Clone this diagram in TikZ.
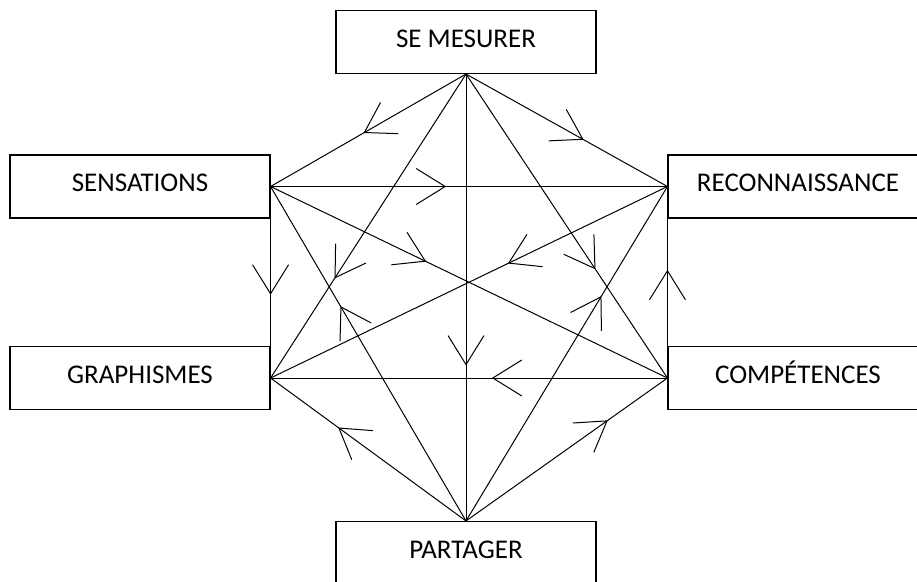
\documentclass[tikz,border=0pt]{standalone}
\usepackage{fontspec}
\setmainfont{Carlito}
\usetikzlibrary{decorations.markings}
\tikzset{
  boxnode/.style={draw=black, line width=1.1pt, minimum width=260pt, minimum height=63pt,
    inner sep=0pt, text height=18pt, text depth=8pt, font=\fontsize{27}{30}\selectfont},
  edge/.style={line width=1pt},
  arr/.style={edge, postaction={decorate}, decoration={markings,
    mark=at position #1 with {\draw[line width=1pt] (-29pt,18pt) -- (0pt,0pt) -- (-29pt,-18pt);}}}
}
\begin{document}
\begin{tikzpicture}[x=1pt,y=-1pt]
\useasboundingbox (0,0) rectangle (917,581);
\clip (0,0) rectangle (917,581);
\node[boxnode] (mes) at (466,42) {SE MESURER};
\node[boxnode] (sen) at (140,186.5) {SENSATIONS};
\node[boxnode] (rec) at (798,186.5) {RECONNAISSANCE};
\node[boxnode] (gra) at (140,378) {GRAPHISMES};
\node[boxnode] (com) at (798,378) {COMPÉTENCES};
\node[boxnode] (par) at (466,553) {PARTAGER};
% edges with arrows
\draw[arr=0.52] (mes.south) -- (sen.east);
\draw[arr=0.58] (mes.south) -- (rec.west);
\draw[arr=0.44] (sen.east) -- (rec.west);
\draw[arr=0.56] (sen.east) -- (gra.east);
\draw[arr=0.56] (com.west) -- (rec.west);
\draw[arr=0.65] (mes.south) -- (par.north);
\draw[arr=0.44] (com.west) -- (gra.east);
\draw[arr=0.65] (par.north) -- (gra.east);
\draw[arr=0.70] (par.north) -- (com.west);
\draw[arr=0.39] (sen.east) -- (com.west);
\draw[arr=0.40] (rec.west) -- (gra.east);
\draw[arr=0.67] (mes.south) -- (gra.east);
\draw[arr=0.64] (par.north) -- (sen.east);
\draw[arr=0.64] (mes.south) -- (com.west);
\draw[arr=0.67] (par.north) -- (rec.west);
\end{tikzpicture}
\end{document}
